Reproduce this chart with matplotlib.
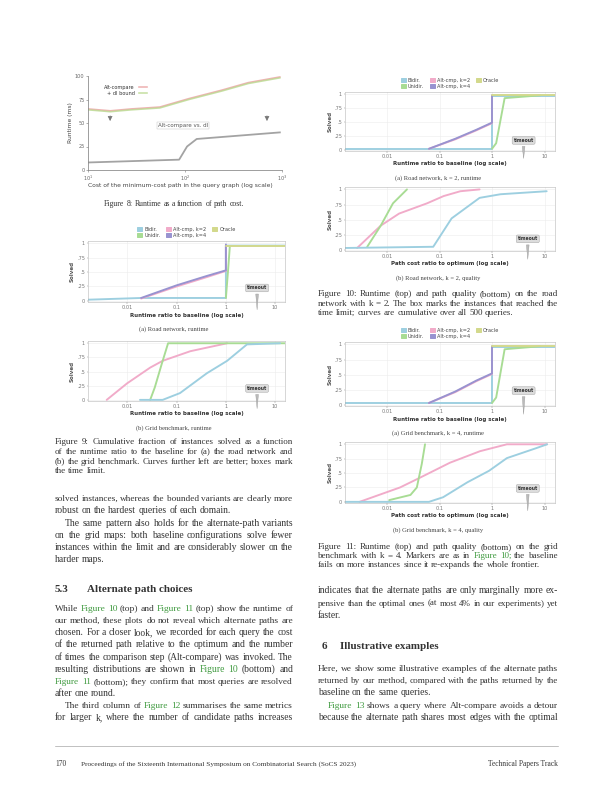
import matplotlib
matplotlib.use("Agg")
import matplotlib.pyplot as plt
from matplotlib.patches import Patch
from matplotlib.ticker import NullLocator

W, H = 612, 792
SERIF = "Liberation Serif"
SANS = "DejaVu Sans"
TEXT = "#333333"
LINK = "#3f9a3f"

TEAL = "#9dcfe0"
GREEN = "#a8dc94"
PINK = "#f1abc9"
PURPLE = "#9893d0"
OLIVE = "#d3d98c"
SERIES_NAMES = ["Bidir.", "Unidir.", "Alt-cmp, k=2", "Alt-cmp, k=4", "Oracle"]
SERIES_COLOURS = [TEAL, GREEN, PINK, PURPLE, OLIVE]

# Figure 8: runtime vs. cost of minimum-cost path
FIG8_COST = [10, 17, 28, 55, 110, 240, 450, 950]
FIG8_RED = [65, 63, 65, 67, 76, 85, 93, 99]
FIG8_GREEN = [64, 62, 64, 66, 75, 84, 92, 98]
FIG8_BASE_COST = [10, 87, 105, 132, 950]
FIG8_BASE = [8, 11, 25, 33, 40]

# panel data: (runtime ratio, fraction of instances solved)
L1_TEAL = ([0.0016, 0.019, 0.6, 1.0, 1.0, 15.8], [0.02, 0.05, 0.05, 0.05, 0.96, 0.96])
L1_GREEN = ([1.0, 1.1, 1.2], [0.05, 0.5, 0.94])
L1_PINK = ([0.019, 0.1, 0.4, 1.0, 1.0], [0.04, 0.25, 0.41, 0.52, 0.96])
L1_PURPLE = ([0.019, 0.1, 0.4, 1.0, 1.0], [0.05, 0.27, 0.43, 0.53, 0.98])
L1_OLIVE = ([1.0, 15.8], [0.95, 0.95])

L2_GREEN = ([0.029, 0.036, 0.05, 0.067, 15.8], [0.0, 0.22, 0.64, 1.0, 1.0])
L2_PINK = ([0.0038, 0.0098, 0.029, 0.052, 0.19, 1.06], [0.0, 0.29, 0.57, 0.69, 0.86, 1.0])
L2_TEAL = ([0.018, 0.052, 0.117, 0.41, 1.06, 2.68, 12.6], [0.0, 0.0, 0.12, 0.47, 0.69, 0.98, 1.0])

R1_TEAL = ([0.0016, 0.063, 0.6, 1.0, 1.0, 15.8], [0.02, 0.02, 0.02, 0.02, 0.97, 0.97])
R1_GREEN = ([1.0, 1.2, 1.74, 8.3], [0.02, 0.12, 0.93, 0.98])
R1_PINK = ([0.063, 0.2, 0.5, 1.0, 1.0], [0.02, 0.19, 0.35, 0.48, 0.97])
R1_PURPLE = ([0.063, 0.2, 0.5, 1.0, 1.0], [0.02, 0.20, 0.36, 0.49, 0.98])
R1_OLIVE = ([1.0, 15.8], [0.99, 0.99])

R2_GREEN = ([0.0042, 0.0076, 0.013, 0.024], [0.05, 0.40, 0.77, 1.0])
R2_PINK = ([0.0027, 0.0076, 0.017, 0.058, 0.12, 0.25, 0.58], [0.03, 0.40, 0.60, 0.77, 0.89, 0.97, 1.0])
R2_TEAL = ([0.0016, 0.076, 0.17, 0.58, 1.45, 11], [0.03, 0.05, 0.52, 0.86, 0.92, 0.97])

R3_TEAL = ([0.0016, 0.063, 0.6, 1.0, 1.0, 15.8], [0.03, 0.03, 0.03, 0.03, 0.96, 0.96])
R3_GREEN = ([1.0, 1.2, 1.74, 8.3], [0.03, 0.12, 0.92, 0.97])
R3_PINK = ([0.063, 0.2, 0.5, 1.0, 1.0], [0.03, 0.21, 0.39, 0.51, 0.96])
R3_PURPLE = ([0.063, 0.2, 0.5, 1.0, 1.0], [0.03, 0.22, 0.40, 0.52, 0.97])
R3_OLIVE = ([1.0, 15.8], [0.97, 0.97])

R4_GREEN = ([0.011, 0.028, 0.037, 0.046, 0.053], [0.03, 0.12, 0.25, 0.66, 1.0])
R4_PINK = ([0.003, 0.0177, 0.0425, 0.158, 0.59, 1.92, 11.2], [0.0, 0.25, 0.42, 0.68, 0.88, 1.0, 1.0])
R4_TEAL = ([0.0016, 0.063, 0.117, 0.34, 0.88, 1.92, 6.8, 11.2], [0.0, 0.0, 0.08, 0.34, 0.54, 0.76, 0.93, 1.0])

# body text (line breaks as on the page)
CAP9 = ["Figure 9: Cumulative fraction of instances solved as a function",
        "of the runtime ratio to the baseline for (a) the road network and",
        "(b) the grid benchmark. Curves further left are better; boxes mark",
        "the time limit."]
PAR1 = ["solved instances, whereas the bounded variants are clearly more",
        "robust on the hardest queries of each domain."]
PAR2 = ["The same pattern also holds for the alternate-path variants",
        "on the grid maps: both baseline configurations solve fewer",
        "instances within the limit and are considerably slower on the",
        "harder maps."]
PAR3 = ["While ~Figure ~10 (top) and ~Figure ~11 (top) show the runtime of",
        "our method, these plots do not reveal which alternate paths are",
        "chosen. For a closer look, we recorded for each query the cost",
        "of the returned path relative to the optimum and the number",
        "of times the comparison step (Alt-compare) was invoked. The",
        "resulting distributions are shown in ~Figure ~10 (bottom) and",
        "~Figure ~11 (bottom); they confirm that most queries are resolved",
        "after one round."]
PAR4 = ["The third column of ~Figure ~12 summarises the same metrics",
        "for larger k, where the number of candidate paths increases"]
CAP10 = ["Figure 10: Runtime (top) and path quality (bottom) on the road",
         "network with k = 2. The box marks the instances that reached the",
         "time limit; curves are cumulative over all 500 queries."]
CAP11 = ["Figure 11: Runtime (top) and path quality (bottom) on the grid",
         "benchmark with k = 4. Markers are as in ~Figure ~10; the baseline",
         "fails on more instances since it re-expands the whole frontier."]
PAR5 = ["indicates that the alternate paths are only marginally more ex-",
        "pensive than the optimal ones (at most 4% in our experiments) yet",
        "faster."]
PAR6 = ["Here, we show some illustrative examples of the alternate paths",
        "returned by our method, compared with the paths returned by the",
        "baseline on the same queries."]
PAR7 = ["~Figure ~13 shows a query where Alt-compare avoids a detour",
        "because the alternate path shares most edges with the optimal"]


def rect(x0, y0, x1, y1):
    return [x0 / W, 1 - y1 / H, (x1 - x0) / W, (y1 - y0) / H]


def put_line(fig, rend, line, x0, x1, y, size, justify, weight="normal", color=TEXT):
    objs = []
    for w in line.split():
        col = color
        if w.startswith("~"):
            w, col = w[1:], LINK
        objs.append(fig.text(0, 0, w, fontsize=size, family=SERIF, color=col,
                             weight=weight, va="baseline"))
    widths = [t.get_window_extent(rend).width for t in objs]
    space = size * 0.25
    natural = sum(widths) + space * (len(objs) - 1)
    if natural > x1 - x0:
        # squeeze an over-long line back into the column
        k = (x1 - x0) / natural
        for t in objs:
            t.set_fontsize(size * k)
        widths = [w * k for w in widths]
        space *= k
    if justify and len(objs) > 1:
        space = (x1 - x0 - sum(widths)) / (len(objs) - 1)
    x = x0
    base = y + size * 0.33
    for t, w in zip(objs, widths):
        t.set_position((x / W, 1 - base / H))
        x += w + space


def put_par(fig, rend, lines, x0, x1, y, dy, size, indent=0, justify_last=False):
    for i, line in enumerate(lines):
        last = i == len(lines) - 1
        put_line(fig, rend, line, x0 + (indent if i == 0 else 0), x1, y + i * dy,
                 size, justify=justify_last or not last)


def panel(fig, r, series, xlabel, subcap, col_mid, note, legend=False):
    ax = fig.add_axes(rect(*r))
    for (xs, ys), col in series:
        ax.plot(xs, ys, color=col, lw=1.9, solid_capstyle="round")
    ax.set_xscale("log")
    ax.set_xlim(10 ** -2.8, 10 ** 1.2)
    ax.set_ylim(-0.02, 1.04)
    ax.set_xticks([0.01, 0.1, 1, 10])
    ax.set_xticklabels(["0.01", "0.1", "1", "10"])
    ax.xaxis.set_minor_locator(NullLocator())
    ax.set_yticks([0, 0.25, 0.5, 0.75, 1])
    ax.set_yticklabels(["0", ".25", ".5", ".75", "1"])
    ax.tick_params(labelsize=5, length=1.5, width=0.4, pad=1.5, colors="#777")
    ax.grid(True, color="#ebebeb", lw=0.5)
    for s in ax.spines.values():
        s.set_color("#b0b0b0")
        s.set_linewidth(0.5)
    ax.set_ylabel("Solved", fontsize=5.5, weight="bold", color="#555", labelpad=2)
    fig.text((r[0] + r[2]) / 2 / W, 1 - (r[3] + 13) / H, xlabel, fontsize=5.5,
             weight="bold", color="#333", ha="center", va="center", family=SANS)
    fig.text(col_mid / W, 1 - (r[3] + 27) / H, subcap, fontsize=6.5, color="#444",
             ha="center", va="center", family=SERIF)
    ax.annotate("timeout", xy=(note[0], -0.16), xycoords=("data", "axes fraction"),
                xytext=(note[0], note[1]), textcoords=("data", "axes fraction"),
                fontsize=4.5, weight="bold", color="#333", ha="center", va="center",
                bbox=dict(boxstyle="round,pad=0.3", fc="#dcdcdc", ec="#999", lw=0.4),
                arrowprops=dict(arrowstyle="wedge,tail_width=0.6", fc="#bbb", ec="#999", lw=0.4),
                annotation_clip=False)
    if legend:
        handles = [Patch(color=c, label=n) for n, c in zip(SERIES_NAMES, SERIES_COLOURS)]
        ax.legend(handles=handles, loc="lower center", bbox_to_anchor=(0.5, 1.0), ncol=3,
                  fontsize=5, frameon=False, handlelength=1.0, handleheight=0.8,
                  columnspacing=1.2, labelspacing=0.2, handletextpad=0.4,
                  borderaxespad=0.2, labelcolor="#444")
    return ax


def main():
    fig = plt.figure(figsize=(W / 72, H / 72), dpi=72)
    rend = fig.canvas.get_renderer()

    # ---- Figure 8 ----
    ax8 = fig.add_axes(rect(88, 76, 282, 170))
    ax8.plot(FIG8_COST, FIG8_RED, color="#eaa0a0", lw=1.6, alpha=0.8, label="Alt-compare")
    ax8.plot(FIG8_COST, FIG8_GREEN, color="#b9d98e", lw=1.6, alpha=0.8, label="+ dl bound")
    ax8.plot(FIG8_BASE_COST, FIG8_BASE, color="#a3a3a3", lw=1.8)
    ax8.set_xscale("log")
    ax8.set_xlim(10, 1000)
    ax8.set_ylim(0, 100)
    ax8.xaxis.set_minor_locator(NullLocator())
    ax8.set_yticks([0, 25, 50, 75, 100])
    ax8.tick_params(labelsize=5, length=2, width=0.5, pad=1.5, colors="#666")
    for side in ("top", "right"):
        ax8.spines[side].set_visible(False)
    for side in ("left", "bottom"):
        ax8.spines[side].set_color("#888")
        ax8.spines[side].set_linewidth(0.8)
    ax8.set_ylabel("Runtime (ms)", fontsize=6, color="#444", labelpad=2)
    ax8.legend(loc="upper left", bbox_to_anchor=(0.06, 0.95), fontsize=5, frameon=False,
               markerfirst=False, handlelength=1.6, labelspacing=0.2, labelcolor="#333")
    ax8.text(95, 47, "Alt-compare vs. dl", fontsize=5.5, color="#555", ha="center",
             va="center", bbox=dict(boxstyle="square,pad=0.2", fc="white", ec="#bbb", lw=0.4))
    ax8.annotate("", xy=(16.9, 50), xytext=(16.9, 60),
                 arrowprops=dict(arrowstyle="-|>", color="#777", lw=0.6))
    ax8.annotate("", xy=(700, 50), xytext=(700, 60),
                 arrowprops=dict(arrowstyle="-|>", color="#777", lw=0.6))
    fig.text(180 / W, 1 - 185 / H, "Cost of the minimum-cost path in the query graph (log scale)",
             fontsize=6, color="#444", ha="center", va="center")
    put_line(fig, rend, "Figure 8: Runtime as a function of path cost.", 104, 244, 203,
             8.5, justify=True)

    # ---- panels ----
    L, R = 174, 438
    panel(fig, (88, 241, 285, 302),
          [(L1_TEAL, TEAL), (L1_GREEN, GREEN), (L1_PINK, PINK), (L1_PURPLE, PURPLE), (L1_OLIVE, OLIVE)],
          "Runtime ratio to baseline (log scale)", "(a) Road network, runtime", L,
          (4.3, 0.23), legend=True)
    panel(fig, (88, 341, 285, 401),
          [(L2_PINK, PINK), (L2_GREEN, GREEN), (L2_TEAL, TEAL)],
          "Runtime ratio to baseline (log scale)", "(b) Grid benchmark, runtime", L,
          (4.3, 0.21))
    panel(fig, (345, 92, 555, 151),
          [(R1_TEAL, TEAL), (R1_GREEN, GREEN), (R1_PINK, PINK), (R1_PURPLE, PURPLE), (R1_OLIVE, OLIVE)],
          "Runtime ratio to baseline (log scale)", "(a) Road network, k = 2, runtime", R,
          (4.0, 0.18), legend=True)
    panel(fig, (345, 187, 555, 251),
          [(R2_PINK, PINK), (R2_GREEN, GREEN), (R2_TEAL, TEAL)],
          "Path cost ratio to optimum (log scale)", "(b) Road network, k = 2, quality", R,
          (4.8, 0.19))
    panel(fig, (345, 342, 555, 406),
          [(R3_TEAL, TEAL), (R3_GREEN, GREEN), (R3_PINK, PINK), (R3_PURPLE, PURPLE), (R3_OLIVE, OLIVE)],
          "Runtime ratio to baseline (log scale)", "(a) Grid benchmark, k = 4, runtime", R,
          (4.0, 0.24), legend=True)
    panel(fig, (345, 442, 555, 503),
          [(R4_PINK, PINK), (R4_GREEN, GREEN), (R4_TEAL, TEAL)],
          "Path cost ratio to optimum (log scale)", "(b) Grid benchmark, k = 4, quality", R,
          (4.8, 0.24))

    # ---- left column text ----
    lx0, lx1 = 55, 293
    put_par(fig, rend, CAP9, lx0, lx1, 441, 9.8, 9)
    put_par(fig, rend, PAR1, lx0, lx1, 498, 12, 9.6)
    put_par(fig, rend, PAR2, lx0, lx1, 523, 11.8, 9.6, indent=10)
    fig.text(55 / W, 1 - 592 / H, "5.3", fontsize=11, weight="bold", family=SERIF, color=TEXT)
    fig.text(87 / W, 1 - 592 / H, "Alternate path choices", fontsize=11, weight="bold",
             family=SERIF, color=TEXT)
    put_par(fig, rend, PAR3, lx0, lx1, 608, 12.1, 9.6)
    put_par(fig, rend, PAR4, lx0, lx1, 705, 12, 9.6, indent=10, justify_last=True)

    # ---- right column text ----
    rx0, rx1 = 318, 558
    put_par(fig, rend, CAP10, rx0, rx1, 293, 9.6, 9)
    put_par(fig, rend, CAP11, rx0, rx1, 546, 9.2, 9)
    put_par(fig, rend, PAR5, rx0, rx1, 590, 12.5, 9.6)
    fig.text(322 / W, 1 - 649 / H, "6", fontsize=11, weight="bold", family=SERIF, color=TEXT)
    fig.text(340 / W, 1 - 649 / H, "Illustrative examples", fontsize=11, weight="bold",
             family=SERIF, color=TEXT)
    put_par(fig, rend, PAR6, rx0, rx1, 668, 12, 9.6)
    put_par(fig, rend, PAR7, rx0, rx1, 705, 12, 9.6, indent=10, justify_last=True)

    # ---- footer ----
    fig.add_artist(plt.Line2D([55 / W, 558 / W], [1 - 746 / H, 1 - 746 / H],
                              color="#999", lw=0.6))
    fig.text(55 / W, 1 - 766 / H, "170", fontsize=7.5, family=SERIF, color=TEXT)
    fig.text(81 / W, 1 - 766 / H,
             "Proceedings of the Sixteenth International Symposium on Combinatorial Search (SoCS 2023)",
             fontsize=7.3, family=SERIF, color=TEXT)
    fig.text(558 / W, 1 - 766 / H, "Technical Papers Track", fontsize=7.5, family=SERIF,
             color=TEXT, ha="right")

    fig.savefig("out.png", dpi=72, facecolor="white")
    plt.close(fig)


if __name__ == "__main__":
    main()
